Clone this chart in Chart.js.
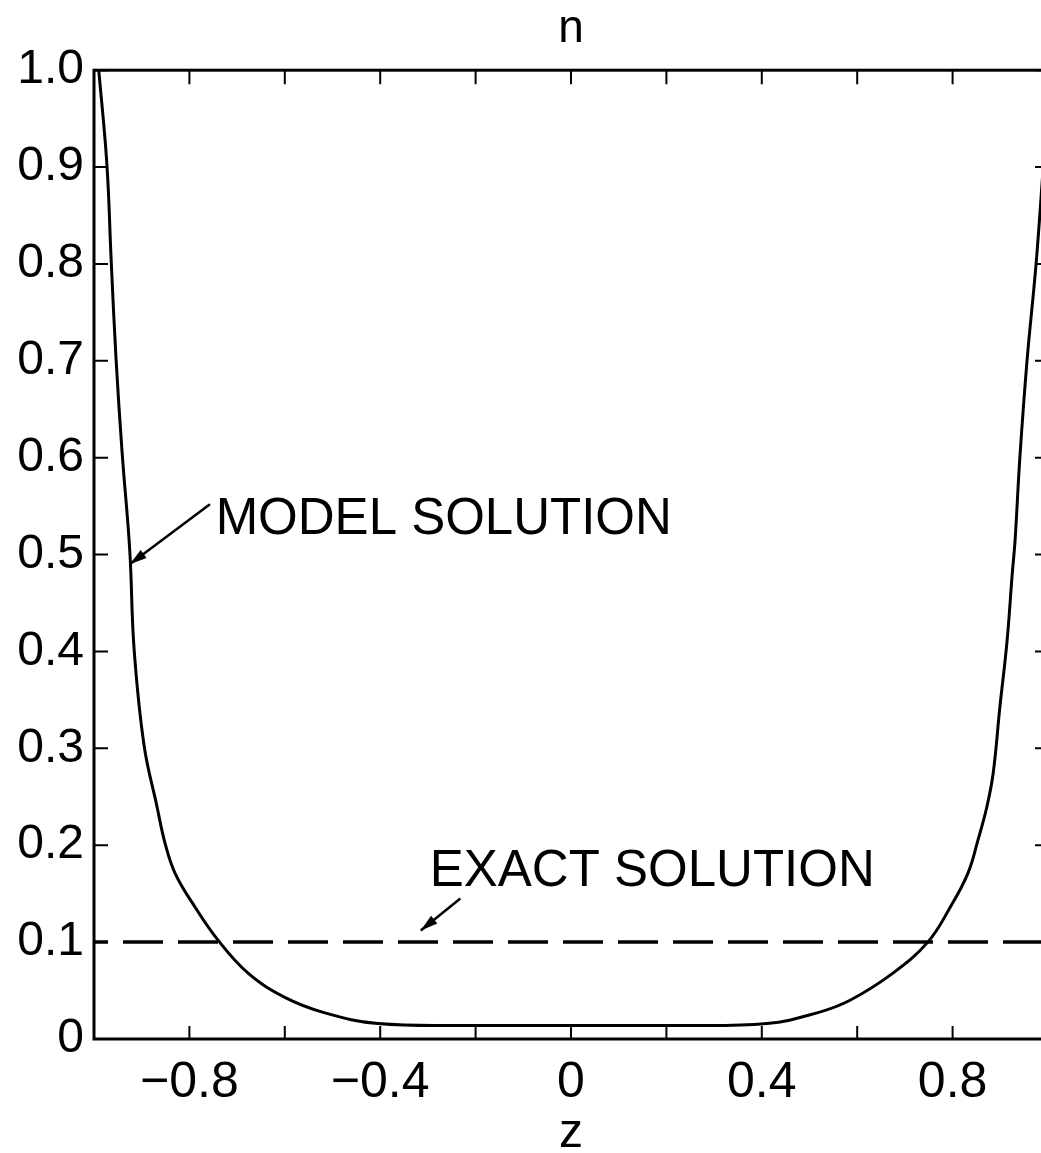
<!DOCTYPE html>
<html>
<head>
<meta charset="utf-8">
<script src="https://cdn.jsdelivr.net/npm/chart.js@4.4.1/dist/chart.umd.min.js"></script>
<style>
  html, body { margin: 0; padding: 0; background: #fff; overflow: hidden; }
  #wrap { width: 1056px; height: 1153px; }
</style>
</head>
<body>
<div id="wrap"><canvas id="nChart" width="1056" height="1153"></canvas></div>
<script>
// valores
const zModel = [-0.99, -0.973, -0.964, -0.954, -0.941, -0.925, -0.916, -0.895, -0.868, -0.851, -0.83,
  -0.788, -0.74, -0.677, -0.6, -0.516, -0.405, -0.2, 0, 0.2, 0.411, 0.516, 0.585, 0.675,
  0.748, 0.795, 0.832, 0.853, 0.872, 0.885, 0.899, 0.914, 0.925, 0.931, 0.941, 0.956, 0.975, 0.99];
const nModel = [1.0, 0.903, 0.804, 0.704, 0.605, 0.504, 0.403, 0.303, 0.24, 0.202, 0.171,
  0.136, 0.102, 0.068, 0.043, 0.027, 0.016, 0.014, 0.014, 0.014, 0.016, 0.027, 0.04, 0.068,
  0.1, 0.136, 0.171, 0.205, 0.24, 0.274, 0.342, 0.41, 0.48, 0.515, 0.6, 0.7, 0.8, 0.9];
const zExact = [-1, 1];
const nExact = [0.1, 0.1];
const xLabelTicks = [-0.8, -0.4, 0, 0.4, 0.8];

const FONT = "'Liberation Sans', Arial, Helvetica, sans-serif";

// marco y marcas hacia adentro
const framePlugin = {
  id: "frame",
  afterDraw(chart) {
    const ctx = chart.ctx;
    const a = chart.chartArea;
    const x = chart.scales.x;
    const y = chart.scales.y;
    ctx.save();
    ctx.strokeStyle = "#000";
    ctx.lineWidth = 3;
    ctx.strokeRect(a.left, a.top, a.right - a.left, a.bottom - a.top);
    ctx.lineWidth = 2;
    ctx.beginPath();
    for (let i = -5; i <= 5; i++) {
      const px = x.getPixelForValue(i * 0.2);
      ctx.moveTo(px, a.bottom); ctx.lineTo(px, a.bottom - 13);
      ctx.moveTo(px, a.top); ctx.lineTo(px, a.top + 14);
    }
    for (let j = 0; j <= 10; j++) {
      const py = y.getPixelForValue(j * 0.1);
      ctx.moveTo(a.left, py); ctx.lineTo(a.left + 14, py);
      ctx.moveTo(a.right, py); ctx.lineTo(a.right - 13, py);
    }
    ctx.stroke();

    // anotaciones
    ctx.fillStyle = "#000";
    ctx.font = "51px " + FONT;
    ctx.textBaseline = "middle";
    ctx.textAlign = "left";
    ctx.fillText("MODEL SOLUTION", x.getPixelForValue(-0.745), y.getPixelForValue(0.536));
    ctx.fillText("EXACT SOLUTION", x.getPixelForValue(-0.296), y.getPixelForValue(0.172));
    arrow(ctx, x.getPixelForValue(-0.757), y.getPixelForValue(0.552),
      x.getPixelForValue(-0.925), y.getPixelForValue(0.49));
    arrow(ctx, x.getPixelForValue(-0.232), y.getPixelForValue(0.145),
      x.getPixelForValue(-0.315), y.getPixelForValue(0.112));
    ctx.restore();
  },
};

function arrow(ctx, x0, y0, x1, y1) {
  const ang = Math.atan2(y1 - y0, x1 - x0);
  ctx.lineWidth = 2.5;
  ctx.beginPath();
  ctx.moveTo(x0, y0);
  ctx.lineTo(x1, y1);
  ctx.stroke();
  ctx.beginPath();
  ctx.moveTo(x1, y1);
  ctx.lineTo(x1 - 18 * Math.cos(ang - 0.28), y1 - 18 * Math.sin(ang - 0.28));
  ctx.lineTo(x1 - 18 * Math.cos(ang + 0.28), y1 - 18 * Math.sin(ang + 0.28));
  ctx.closePath();
  ctx.fill();
}

const ctx = document.getElementById("nChart").getContext("2d");
new Chart(ctx, {
  type: "line",
  data: {
    datasets: [
      {
        label: "Model solution",
        data: zModel.map((z, i) => ({ x: z, y: nModel[i] })),
        borderColor: "#000",
        borderWidth: 3,
        pointRadius: 0,
        tension: 0.4,
        fill: false,
      },
      {
        label: "Exact solution",
        data: zExact.map((z, i) => ({ x: z, y: nExact[i] })),
        borderColor: "#000",
        borderWidth: 3.5,
        borderDash: [40, 15],
        borderDashOffset: 26,
        pointRadius: 0,
        fill: false,
      },
    ],
  },
  options: {
    responsive: false,
    animation: false,
    layout: { padding: { right: 8, top: 0, left: 0, bottom: 0 } },
    plugins: {
      legend: { display: false },
      tooltip: { enabled: false },
      title: {
        display: true,
        text: "n",
        fullSize: false,
        color: "#000",
        font: { family: FONT, size: 46, weight: "normal" },
        padding: { top: 2, bottom: 13 },
      },
    },
    scales: {
      x: {
        type: "linear",
        min: -1,
        max: 1,
        afterFit(scale) { scale.height = 114; },
        afterBuildTicks(scale) {
          scale.ticks = xLabelTicks.map((v) => ({ value: v }));
        },
        grid: { display: false, drawTicks: false },
        border: { display: false },
        ticks: {
          color: "#000",
          padding: 14,
          maxRotation: 0,
          font: { family: FONT, size: 50 },
          callback: (v) => (v < 0 ? "\u2212" + Math.abs(v) : String(v)),
        },
        title: {
          display: true,
          text: "z",
          color: "#000",
          font: { family: FONT, size: 48 },
          padding: { top: 0, bottom: -10 },
        },
      },
      y: {
        type: "linear",
        min: 0,
        max: 1,
        afterFit(scale) { scale.width = 94; },
        grid: { display: false, drawTicks: false },
        border: { display: false },
        ticks: {
          color: "#000",
          stepSize: 0.1,
          padding: 10,
          font: { family: FONT, size: 48 },
          callback: (v) => (Math.abs(v) < 1e-9 ? "0" : v.toFixed(1)),
        },
      },
    },
  },
  plugins: [framePlugin],
});
</script>
</body>
</html>
